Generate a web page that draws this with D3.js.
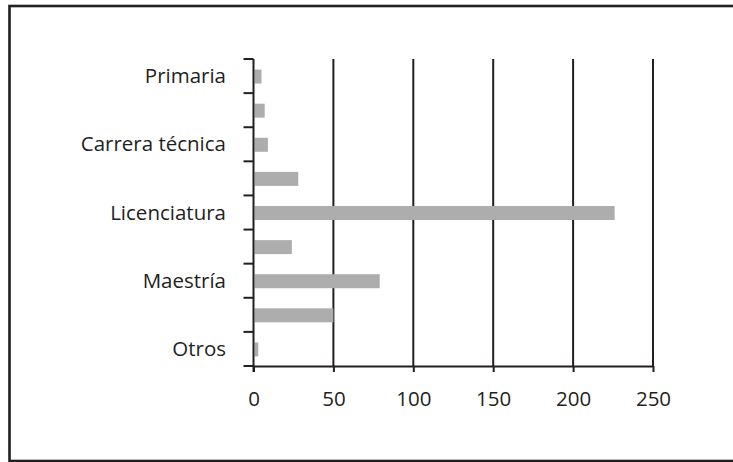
<!DOCTYPE html>
<html>
<head>
<meta charset="utf-8">
<script src="https://cdn.jsdelivr.net/npm/d3@7"></script>
<style>
  html, body { margin: 0; padding: 0; background: #fff; }
  svg { display: block; }
  text { font-family: "Open Sans", "Noto Sans", sans-serif; fill: #231f20; }
</style>
</head>
<body>
<svg id="chart" width="733" height="462"></svg>
<script>
const categories = ["Primaria", "", "Carrera técnica", "", "Licenciatura", "", "Maestría", "", "Otros"];
const values = [5, 7, 9, 28, 226, 24, 79, 50, 3];
const xTicks = [0, 50, 100, 150, 200, 250];

(function () {
const svg = d3.select("#chart");
const ink = "#231f20";
const fs = "20.5px";

// outer frame
svg.append("rect")
  .attr("x", 9.5).attr("y", 6)
  .attr("width", 800).attr("height", 455)
  .attr("fill", "none").attr("stroke", ink).attr("stroke-width", 2.6);

const pLeft = 253.5, pRight = 653, pTop = 59, pBottom = 366;

const x = d3.scaleLinear().domain([0, 250]).range([pLeft, pRight]);
const y = d3.scaleBand().domain(d3.range(categories.length)).range([pTop, pBottom]).paddingInner(0.59).paddingOuter(0.295);
const yb = d3.scaleBand().domain(d3.range(categories.length)).range([pTop, pBottom]).padding(0);

// gridlines
svg.append("g").selectAll("line")
  .data(xTicks.filter(d => d > 0))
  .join("line")
  .attr("x1", d => x(d)).attr("x2", d => x(d))
  .attr("y1", pTop).attr("y2", pBottom)
  .attr("stroke", ink).attr("stroke-width", 2);

// bars
svg.append("g").selectAll("rect")
  .data(values)
  .join("rect")
  .attr("x", x(0) + 1)
  .attr("y", (d, i) => y(i) + 0.5)
  .attr("width", d => Math.max(0, x(d) - x(0) - 1))
  .attr("height", y.bandwidth())
  .attr("fill", "#adadad");

// x axis
const xAxis = d3.axisBottom(x).tickValues(xTicks).tickSize(6).tickPadding(19).tickSizeOuter(0);
const gx = svg.append("g").attr("transform", `translate(0,${pBottom})`).call(xAxis);
gx.select(".domain").attr("stroke", ink).attr("stroke-width", 2);
gx.selectAll(".tick line").attr("stroke", ink).attr("stroke-width", 2);
gx.selectAll("text").style("font-size", fs).attr("fill", ink).style("font-family", "'Open Sans', sans-serif");

// y axis: ticks at band boundaries
const yTickPos = d3.range(categories.length + 1).map(i => pTop + i * yb.step());
const gy = svg.append("g");
gy.append("line")
  .attr("x1", pLeft).attr("x2", pLeft)
  .attr("y1", pTop).attr("y2", pBottom + 6)
  .attr("stroke", ink).attr("stroke-width", 2);
gy.selectAll("line.tk")
  .data(yTickPos)
  .join("line").attr("class", "tk")
  .attr("x1", pLeft - 10).attr("x2", pLeft)
  .attr("y1", d => d).attr("y2", d => d)
  .attr("stroke", ink).attr("stroke-width", 2);
gy.selectAll("text")
  .data(categories)
  .join("text")
  .attr("x", 226)
  .attr("y", (d, i) => yb(i) + yb.bandwidth() / 2)
  .attr("dy", "0.35em")
  .attr("text-anchor", "end")
  .style("font-size", fs)
  .text(d => d);
})();
</script>
</body>
</html>
